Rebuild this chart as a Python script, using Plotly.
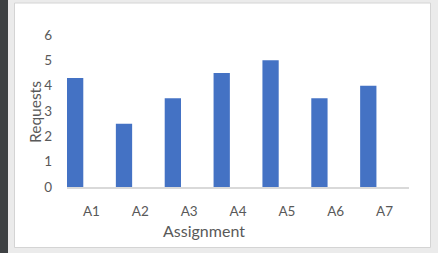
import plotly.graph_objects as go

categories = ["A1", "A2", "A3", "A4", "A5", "A6", "A7"]
requests = [4.3, 2.5, 3.5, 4.5, 5.0, 3.5, 4.0]
y_ticks = [0, 1, 2, 3, 4, 5, 6]

W, H = 438, 253
L, R, T, B = 67, 29, 35, 66


def px(x):
    return (x - L) / (W - L - R)


def py(y):
    return (H - B - y) / (H - T - B)


fig = go.Figure()
fig.add_trace(go.Bar(
    x=categories, y=requests,
    width=1 / 3, offset=-0.5,
    marker=dict(color="#4472c4", line=dict(width=0)),
))

font_family = "Lato, 'Noto Sans', sans-serif"
tick_color = "#595959"

fig.update_layout(
    width=W, height=H,
    margin=dict(l=L, r=R, t=T, b=B, pad=0),
    paper_bgcolor="#ebebeb",
    plot_bgcolor="rgba(0,0,0,0)",
    showlegend=False,
    font=dict(family=font_family, color=tick_color, size=12),
    xaxis=dict(
        type="category", range=[-0.5, 6.5],
        showgrid=False, zeroline=False,
        showline=True, linecolor="#d9d9d9", linewidth=1.5,
        ticks="", ticklabelstandoff=11,
        tickfont=dict(size=13.5, color=tick_color, family=font_family),
    ),
    yaxis=dict(
        range=[0, 6], tickvals=y_ticks,
        showgrid=False, zeroline=False, showline=False,
        ticks="", ticklabelstandoff=14,
        tickfont=dict(size=13.5, color=tick_color, family=font_family),
    ),
    shapes=[
        dict(type="rect", xref="paper", yref="paper", layer="below",
             x0=px(0), x1=px(8), y0=py(0), y1=py(H),
             fillcolor="#3e4143", line=dict(width=0)),
        dict(type="rect", xref="paper", yref="paper", layer="below",
             x0=px(14.5), x1=px(430.5), y0=py(3), y1=py(247.5),
             fillcolor="#ffffff", line=dict(color="#d4d4d4", width=1)),
    ],
    annotations=[
        dict(text="Requests", xref="paper", yref="paper",
             x=px(35), y=py(112), textangle=-90, showarrow=False,
             xanchor="center", yanchor="middle",
             font=dict(size=15.5, color=tick_color, family=font_family)),
        dict(text="Assignment", xref="paper", yref="paper",
             x=px(204), y=py(230), showarrow=False,
             xanchor="center", yanchor="middle",
             font=dict(size=16, color=tick_color, family=font_family)),
    ],
)

fig.write_html("out.html")
